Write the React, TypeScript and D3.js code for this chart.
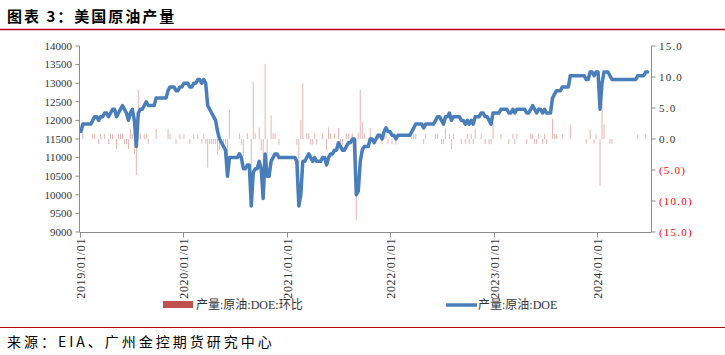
import React from 'react';
import * as d3 from 'd3';

// Weekly US crude oil production (kb/d), weeks ending Fridays from 2019-01-04
const prod2019 = [11700, 11900, 11900, 11900, 11900, 11900, 12000, 12100, 12100, 12000, 12100, 12100, 12200, 12200, 12100, 12200, 12300, 12300, 12100, 12200, 12300, 12400, 12300, 12200, 12000, 12200, 12300, 12000, 11300, 12200, 12300, 12300, 12400, 12500, 12400, 12400, 12400, 12400, 12600, 12600, 12600, 12600, 12600, 12600, 12800, 12900, 12900, 12900, 12800, 12800, 12900, 12900];
const prod2020 = [13000, 13000, 13000, 12900, 12900, 13000, 13000, 13100, 13100, 13000, 13100, 13000, 12400, 12300, 12200, 12100, 12000, 11700, 11500, 11400, 11300, 11200, 10500, 11000, 11000, 11000, 11000, 11000, 11100, 11000, 10700, 10700, 10800, 10800, 9700, 10600, 10700, 10700, 10900, 10700, 9900, 11100, 10500, 10500, 10900, 11000, 11100, 11100, 11000, 11000, 11000, 11000];
const prod2021 = [11000, 11000, 11000, 11000, 11000, 10900, 9700, 10000, 10900, 10900, 11000, 11100, 11000, 10900, 11000, 10900, 10900, 10900, 11000, 11000, 10800, 11000, 11100, 11100, 11200, 11200, 11400, 11300, 11200, 11200, 11300, 11400, 11400, 11500, 11500, 10000, 10100, 10900, 11200, 11300, 11300, 11300, 11500, 11500, 11400, 11500, 11600, 11600, 11500, 11700, 11800, 11700];
const prod2022 = [11700, 11600, 11600, 11500, 11600, 11600, 11600, 11600, 11600, 11600, 11600, 11700, 11800, 11900, 11900, 11900, 11900, 11800, 11900, 11900, 11900, 11900, 11900, 12000, 12100, 12100, 12000, 11900, 12100, 12100, 12200, 12000, 12100, 12100, 12100, 12100, 12000, 12000, 11900, 12000, 11900, 12000, 11900, 12100, 12100, 12100, 12200, 12200, 12100, 12100, 12000, 11900];
const prod2023 = [12200, 12200, 12200, 12200, 12300, 12300, 12300, 12300, 12200, 12200, 12300, 12200, 12300, 12300, 12300, 12300, 12300, 12200, 12200, 12300, 12400, 12300, 12200, 12300, 12300, 12200, 12300, 12200, 12200, 12200, 12600, 12700, 12800, 12800, 12800, 12900, 12900, 12900, 12900, 13200, 13200, 13200, 13200, 13200, 13200, 13200, 13200, 13100, 13100, 13300, 13300, 13200];
const prod2024 = [13300, 13300, 12300, 13000, 13300, 13300, 13300, 13200, 13100, 13100, 13100, 13100, 13100, 13100, 13100, 13100, 13100, 13100, 13100, 13100, 13100, 13200, 13200, 13200, 13200, 13300, 13300];

const production = [...prod2019, ...prod2020, ...prod2021, ...prod2022, ...prod2023, ...prod2024];
const firstWeek = new Date(2019, 0, 4);

const leftTicks = [9000, 9500, 10000, 10500, 11000, 11500, 12000, 12500, 13000, 13500, 14000];
const rightTicks = [-15, -10, -5, 0, 5, 10, 15];
const xTickLabels = ['2019/01/01', '2020/01/01', '2021/01/01', '2022/01/01', '2023/01/01', '2024/01/01'];

const title = '图表 3：美国原油产量';
const source = '来源：EIA、广州金控期货研究中心';
const barLegend = '产量:原油:DOE:环比';
const lineLegend = '产量:原油:DOE';

const SERIF = '"Liberation Serif", "Noto Sans CJK SC", serif';
const CJK = '"Noto Sans CJK SC", sans-serif';

export default function App() {
  const W = 725;
  const H = 355;
  const left = 80, right = 651, top = 46, bottom = 232;

  const x = d3.scaleTime().domain([new Date(2019, 0, 1), new Date(2024, 6, 10)]).range([left, right]);
  const yL = d3.scaleLinear().domain([9000, 14000]).range([bottom, top]);
  const yR = d3.scaleLinear().domain([-15, 15]).range([bottom, top]);

  const dates = production.map((_, i) => d3.timeDay.offset(firstWeek, 7 * i));
  const change = production.map((v, i) => (i === 0 ? 0 : ((v - production[i - 1]) / production[i - 1]) * 100));

  const line = d3
    .line<number>()
    .x((_, i) => x(dates[i]))
    .y((d) => yL(d));

  const fmtR = (v: number) => (v < 0 ? `(${(-v).toFixed(1)})` : v.toFixed(1));
  const axisColor = '#8c8c8c';

  return (
    <svg width={W} height={H} style={{ position: 'absolute', left: 0, top: 0, background: '#fff' }}>
      <rect width={W} height={H} fill="#fff" />
      {/* title */}
      <text x={7} y={22} fontFamily={CJK} fontWeight={700} fontSize={15} letterSpacing={2} fill="#000">
        {title}
      </text>
      <line x1={0} x2={W} y1={29.5} y2={29.5} stroke="#c00000" strokeWidth={1.5} />

      {/* bars (week-on-week change, right axis) */}
      <g>
        {change.map((c, i) =>
          i === 0 || c === 0 ? null : (
            <rect
              key={i}
              x={x(dates[i]) - 0.5}
              width={1}
              y={Math.min(yR(c), yR(0))}
              height={Math.abs(yR(c) - yR(0))}
              fill="#c0504d"
              fillOpacity={0.42}
            />
          )
        )}
      </g>

      {/* production line */}
      <path d={line(production) || ''} fill="none" stroke="#4a7ebb" strokeWidth={3.5} strokeLinejoin="round" strokeLinecap="round" />

      {/* left axis */}
      <line x1={left - 0.5} x2={left - 0.5} y1={top} y2={bottom} stroke={axisColor} />
      {leftTicks.map((t) => (
        <g key={t}>
          <line x1={left - 4.5} x2={left - 0.5} y1={yL(t)} y2={yL(t)} stroke={axisColor} />
          <text x={72} y={yL(t)} dy="0.35em" textAnchor="end" fontFamily={SERIF} fontSize={11} fill="#333">
            {t}
          </text>
        </g>
      ))}

      {/* right axis */}
      <line x1={right + 0.5} x2={right + 0.5} y1={top} y2={bottom} stroke={axisColor} />
      {rightTicks.map((t) => (
        <g key={t}>
          <line x1={right + 0.5} x2={right + 4.5} y1={yR(t)} y2={yR(t)} stroke={axisColor} />
          <text
            x={659}
            y={yR(t)}
            dy="0.35em"
            fontFamily={SERIF}
            fontSize={11}
            letterSpacing={1.2}
            fill={t < 0 ? '#ff0000' : '#333'}
          >
            {fmtR(t)}
          </text>
        </g>
      ))}

      {/* bottom axis */}
      <line x1={left - 0.5} x2={right + 0.5} y1={bottom + 0.5} y2={bottom + 0.5} stroke={axisColor} />
      {xTickLabels.map((lab) => {
        const d = d3.timeParse('%Y/%m/%d')(lab) as Date;
        const tx = Math.round(x(d)) + 0.5;
        return (
          <g key={lab}>
            <line x1={tx} x2={tx} y1={bottom + 0.5} y2={bottom + 5.5} stroke={axisColor} />
            <text
              transform={`translate(${tx},${bottom + 6}) rotate(-90)`}
              dy="0.35em"
              textAnchor="end"
              fontFamily={SERIF}
              fontSize={12}
              letterSpacing={0.6}
              fill="#333"
            >
              {lab}
            </text>
          </g>
        );
      })}

      {/* legend */}
      <rect x={163} y={301} width={30} height={7} fill="#c0504d" />
      <text x={196} y={309} fontFamily={SERIF} fontSize={12} fill="#333">
        {barLegend}
      </text>
      <line x1={446} x2={477} y1={305} y2={305} stroke="#4a7ebb" strokeWidth={3.5} />
      <text x={478} y={309} fontFamily={SERIF} fontSize={12} fill="#333">
        {lineLegend}
      </text>

      {/* footer */}
      <line x1={0} x2={W} y1={327.5} y2={327.5} stroke="#c00000" strokeWidth={1.2} />
      <text x={7} y={347} fontFamily={CJK} fontSize={14} letterSpacing={3} fill="#000">
        {source}
      </text>
    </svg>
  );
}
